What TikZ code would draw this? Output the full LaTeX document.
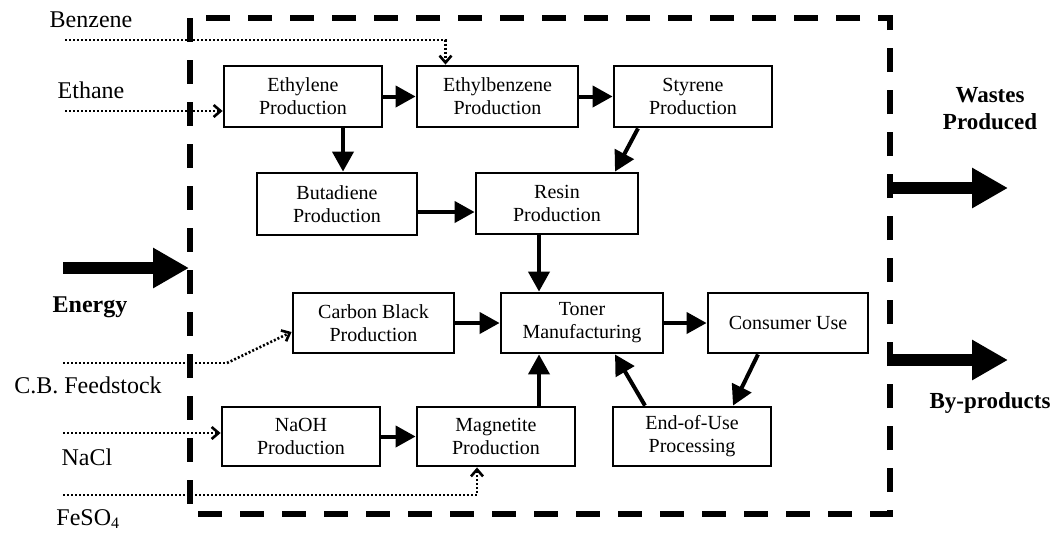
\documentclass[tikz,border=0pt]{standalone}
\usepackage{fontspec}
\setmainfont{Liberation Serif}
\usetikzlibrary{arrows.meta}
\tikzset{
  proc/.style={draw, line width=2.8pt, minimum height=60pt, align=center, inner sep=2pt,
    font=\fontsize{20}{23}\selectfont},
  flow/.style={line width=4pt, -{Triangle[length=20pt,width=21pt]}},
  feed/.style={line width=2.6pt, dash pattern=on 2pt off 2pt, -{Straight Barb[length=7pt,width=12pt,line width=2.6pt]}},
  feedline/.style={line width=2.6pt, dash pattern=on 2pt off 2pt},
  big/.style={line width=12pt, -{Triangle[length=36pt,width=38pt]}},
  lab/.style={anchor=base, font=\fontsize{24}{26}\selectfont, inner sep=0pt},
  blab/.style={anchor=base, font=\fontsize{24}{27}\selectfont\bfseries, inner sep=0pt, align=center},
  boundary/.style={line width=6pt, dash pattern=on 24pt off 18pt}
}
\begin{document}
\begin{tikzpicture}[x=1pt,y=-1pt]
\useasboundingbox (0,0) rectangle (1064,533);
% boundary
\draw[boundary] (190,18) rectangle (890,514);
% process boxes
\node[proc, minimum width=158pt, minimum height=61pt] (eth) at (303,96.5) {Ethylene\\Production};
\node[proc, minimum width=161pt, minimum height=61pt] (ebz) at (497.5,96.5) {Ethylbenzene\\Production};
\node[proc, minimum width=158pt, minimum height=61pt] (sty) at (693,96.5) {Styrene\\Production};
\node[proc, minimum width=160pt, minimum height=62pt] (but) at (337,204) {Butadiene\\Production};
\node[proc, minimum width=162pt, minimum height=61pt] (res) at (557,203.5) {Resin\\Production};
\node[proc, minimum width=161pt] (cb) at (373.5,323) {Carbon Black\\Production};
\node[proc, minimum width=162pt] (ton) at (582,323) {Toner\\Manufacturing};
\node[proc, minimum width=160pt] (con) at (788,323) {Consumer Use};
\node[proc, minimum width=158pt, minimum height=59pt] (naoh) at (301,436.5) {NaOH\\Production};
\node[proc, minimum width=158pt, minimum height=59pt] (mag) at (496,436.5) {Magnetite\\Production};
\node[proc, minimum width=158pt, minimum height=59pt] (eou) at (692,436.5) {End-of-Use\\Processing};
% solid flows
\draw[flow] (eth.east) -- (ebz.west);
\draw[flow] (ebz.east) -- (sty.west);
\draw[flow] ([xshift=40pt]eth.south) -- ([xshift=40pt]eth.south |- but.north);
\draw[flow] ([yshift=-8pt]but.east) -- ([yshift=-8pt]but.east -| res.west);
\draw[flow] ([xshift=-55pt]sty.south) -- ([xshift=58pt]res.north);
\draw[flow] ([xshift=-18pt]res.south) -- ([xshift=-18pt]res.south |- ton.north);
\draw[flow] (cb.east) -- (ton.west);
\draw[flow] (ton.east) -- (con.west);
\draw[flow] ([xshift=-30pt]con.south) -- ([xshift=41pt]eou.north);
\draw[flow] ([xshift=-47pt]eou.north) -- ([xshift=33pt]ton.south);
\draw[flow] ([xshift=43pt]mag.north) -- ([xshift=43pt]mag.north |- ton.south);
\draw[flow] (naoh.east) -- (naoh.east -| mag.west);
% feedstock inputs
\coordinate (bzs) at (65,40);
\coordinate (ets) at (65,111);
\coordinate (cbs) at (63,363);
\coordinate (cbk) at (227,363);
\coordinate (nas) at (63,433);
\coordinate (fes) at (63,495);
\draw[feed] (bzs) -| ([xshift=-52pt]ebz.north);
\draw[feed] (ets) -- (ets -| eth.west);
\draw[feedline] (cbs) -- (cbk);
\draw[feed] (cbk) -- ([yshift=-9pt]cb.west);
\draw[feed] (nas) -- (nas -| naoh.west);
\draw[feed] (fes) -| ([xshift=-19pt]mag.south);
% big arrows
\coordinate (ens) at (63,268);
\coordinate (ene) at (189,268);
\coordinate (wss) at (887,188);
\coordinate (wse) at (1008,188);
\coordinate (bps) at (887,360);
\coordinate (bpe) at (1008,360);
\draw[big] (ens) -- (ene);
\draw[big] (wss) -- (wse);
\draw[big] (bps) -- (bpe);
% labels
\node[lab] (lbz) at (91,27) {Benzene};
\node[lab] (let) at (91,98) {Ethane};
\node[lab] (lcb) at (88,393) {C.B. Feedstock};
\node[lab] (lna) at (87,465) {NaCl};
\node[lab] (lfe) at (88,525) {FeSO\textsubscript{\fontsize{16}{16}\selectfont 4}};
\node[blab] (len) at (90,312) {Energy};
\node[blab, font=\fontsize{23}{27}\selectfont\bfseries] (lws) at (990,129) {Wastes\\Produced};
\node[blab, font=\fontsize{23}{27}\selectfont\bfseries] (lbp) at (990,408) {By-products};
\end{tikzpicture}
\end{document}
